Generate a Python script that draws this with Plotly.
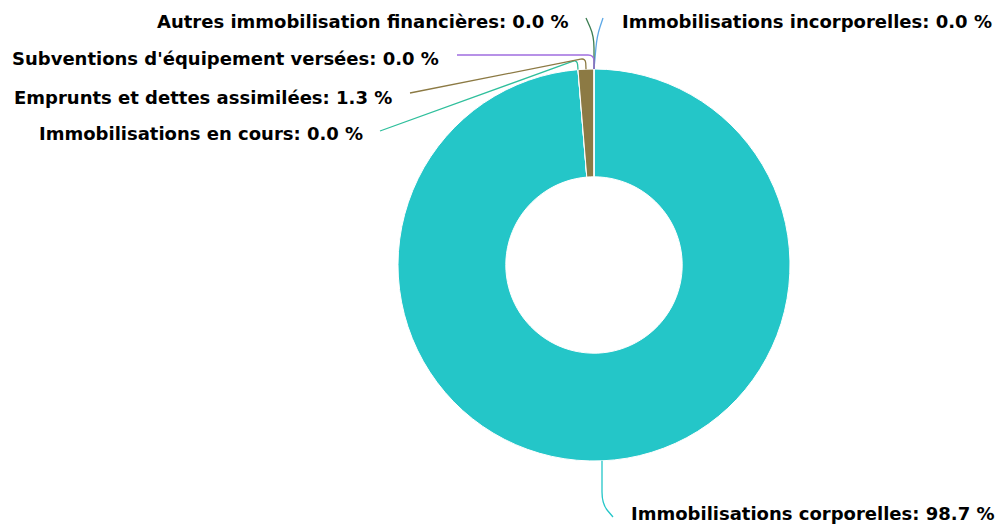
import math
import plotly.graph_objects as go

# ---- data ----
labels = [
    "Immobilisations incorporelles",
    "Autres immobilisation financières",
    "Immobilisations corporelles",
    "Immobilisations en cours",
    "Emprunts et dettes assimilées",
    "Subventions d'équipement versées",
]
values = [0.0, 0.0, 98.7, 0.0, 1.3, 0.0]
colors = ["#5da8e6", "#3b7d52", "#24c6c8", "#2fbf9c", "#8c7a44", "#a06ee0"]

# ---- layout constants (screen pixels) ----
W, H = 998, 524
CX, CY, R = 594, 265, 196
HOLE = 0.45
FONT = "DejaVu Sans"
FSIZE = 18

# label anchor (x, y, xanchor), connector elbow, connector end, corner radius
label_layout = [
    dict(x=620, y=21, anchor="left", elbow=(597, 36), end=(603, 18), rad=12),
    dict(x=571, y=21, anchor="right", elbow=(594, 36), end=(586, 18), rad=12),
    dict(x=629, y=513, anchor="left", elbow=(602, 504), end=(613, 517), rad=12),
    dict(x=365, y=133, anchor="right", elbow=None, end=(380, 131), rad=5),
    dict(x=394, y=97, anchor="right", elbow=None, end=(410, 93), rad=5),
    dict(x=441, y=58, anchor="right", elbow=None, end=(457, 55), rad=6),
]
ELBOW_OFFSET = [0, 0, 0, 10, 11, 14]  # radial distance of elbow beyond edge

total = sum(values)
fig = go.Figure()

fig.add_trace(go.Pie(
    labels=labels,
    values=values,
    hole=HOLE,
    sort=False,
    direction="clockwise",
    rotation=0,
    textinfo="none",
    marker=dict(colors=colors, line=dict(color="white", width=1)),
    domain=dict(x=[(CX - R) / W, (CX + R) / W],
                y=[1 - (CY + R) / H, 1 - (CY - R) / H]),
    showlegend=False,
    hovertemplate="%{label}: %{percent}<extra></extra>",
))


def rounded_path(pts, rad):
    p0, e, p2 = pts
    def toward(a, b, d):
        dx, dy = b[0] - a[0], b[1] - a[1]
        L = math.hypot(dx, dy) or 1
        d = min(d, L / 2)
        return (a[0] + dx / L * d, a[1] + dy / L * d)
    q1 = toward(e, p0, rad)
    q2 = toward(e, p2, rad)
    return (f"M {p0[0]:.2f},{p0[1]:.2f} L {q1[0]:.2f},{q1[1]:.2f} "
            f"Q {e[0]:.2f},{e[1]:.2f} {q2[0]:.2f},{q2[1]:.2f} L {p2[0]:.2f},{p2[1]:.2f}")


shapes = []
annotations = []
cum = 0.0
for i, (lab, v) in enumerate(zip(labels, values)):
    mid = (cum + v / 2) / total * 2 * math.pi
    cum += v
    sx = CX + R * math.sin(mid)
    sy = CY - R * math.cos(mid)
    lay = label_layout[i]
    if lay["elbow"] is None:
        d = ELBOW_OFFSET[i]
        elbow = (CX + (R + d) * math.sin(mid), CY - (R + d) * math.cos(mid))
    else:
        elbow = lay["elbow"]
    shapes.append(dict(
        type="path", xref="x", yref="y",
        path=rounded_path([(sx, sy), elbow, lay["end"]], lay["rad"]),
        line=dict(color=colors[i], width=1.3),
    ))
    pct = v / total * 100
    annotations.append(dict(
        x=lay["x"], y=lay["y"], xref="x", yref="y",
        xanchor=lay["anchor"], yanchor="middle",
        text=f"<b>{lab}: {pct:.1f} %</b>",
        showarrow=False,
        font=dict(family=FONT, size=FSIZE, color="#000000"),
    ))

fig.update_layout(
    width=W, height=H,
    margin=dict(l=0, r=0, t=0, b=0),
    paper_bgcolor="white", plot_bgcolor="rgba(0,0,0,0)",
    xaxis=dict(range=[0, W], visible=False, fixedrange=True),
    yaxis=dict(range=[H, 0], visible=False, fixedrange=True),
    shapes=shapes,
    annotations=annotations,
)

fig.write_html(
    "out.html",
    config={"displayModeBar": False},
    post_script="document.body.style.margin='0';document.body.style.overflow='hidden';",
)
